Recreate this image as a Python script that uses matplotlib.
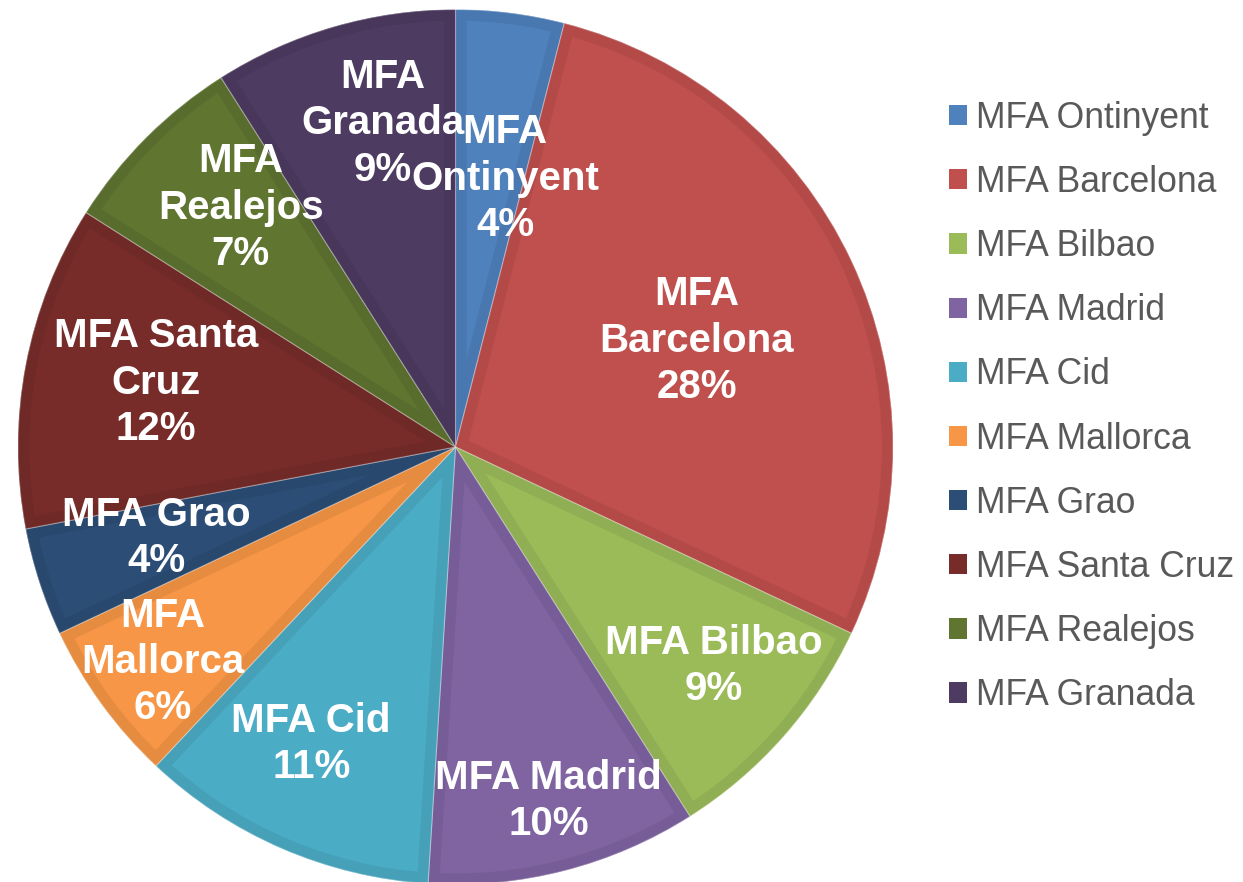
import numpy as np
import matplotlib
matplotlib.use("Agg")
import matplotlib.pyplot as plt
from matplotlib.patches import Patch, Wedge
from matplotlib.colors import to_rgb

# ---- data ----
categories = ["MFA Ontinyent", "MFA Barcelona", "MFA Bilbao", "MFA Madrid", "MFA Cid",
              "MFA Mallorca", "MFA Grao", "MFA Santa Cruz", "MFA Realejos", "MFA Granada"]
values = [4, 28, 9, 10, 11, 6, 4, 12, 7, 9]
label_texts = ["MFA\nOntinyent", "MFA\nBarcelona", "MFA Bilbao", "MFA Madrid", "MFA Cid",
               "MFA\nMallorca", "MFA Grao", "MFA Santa\nCruz", "MFA\nRealejos", "MFA\nGranada"]

# ---- style ----
colors = ["#4F81BD", "#C0504D", "#9BBB59", "#8064A2", "#4BACC6",
          "#F79646", "#2C4D75", "#772C2A", "#5F7530", "#4D3B62"]
label_radius = [0.624, 0.603, 0.774, 0.837, 0.755, 0.83, 0.715, 0.70, 0.735, 0.758]
label_angle_shift = [-3.3, -1.4, 1.1, 0.3, -2.5, 0.3, -1.1, -1.3, -3.1, -3.6]

W, H = 1243, 882
fig = plt.figure(figsize=(W / 100, H / 100), dpi=100)
cx, cy, R = 455.5, 447.0, 437.5
ax = fig.add_axes([(cx - R) / W, (H - cy - R) / H, 2 * R / W, 2 * R / H])

def shade(c, f):
    r, g, b = to_rgb(c)
    return (r * f, g * f, b * f)

wedges, _ = ax.pie(values, colors=colors, startangle=90, counterclock=False,
                   radius=1.0, wedgeprops=dict(linewidth=0))
ax.set_xlim(-1, 1)
ax.set_ylim(-1, 1)
ax.set_aspect("equal")
ax.axis("off")

for w, c in zip(wedges, colors):
    w.set_clip_on(False)
    band = Wedge(w.center, w.r, w.theta1, w.theta2, facecolor="none",
                 edgecolor=shade(c, 0.93), linewidth=16)
    ax.add_patch(band)
    band.set_clip_path(w)
    sep = Wedge(w.center, w.r, w.theta1, w.theta2, facecolor="none",
                edgecolor=(1, 1, 1, 0.35), linewidth=0.8, clip_on=False)
    ax.add_patch(sep)

total = sum(values)
for w, txt, v, rf, sh in zip(wedges, label_texts, values, label_radius, label_angle_shift):
    mid = np.deg2rad((w.theta1 + w.theta2) / 2 + sh)
    ax.text(rf * np.cos(mid), rf * np.sin(mid), f"{txt}\n{round(100 * v / total)}%",
            ha="center", va="center", color="white", fontsize=29, fontweight="bold",
            family="Liberation Sans", linespacing=1.28, clip_on=False)

handles = [Patch(facecolor=c, edgecolor="none") for c in colors]
fig.legend(handles, categories, loc="center left",
           bbox_to_anchor=(949 / W, 1 - 407 / H), frameon=False,
           prop=dict(family="Liberation Sans", size=25.6),
           labelcolor="#595959", handlelength=0.5, handleheight=0.5,
           handletextpad=0.26, labelspacing=0.82, borderpad=0, borderaxespad=0)

fig.savefig("out.png", dpi=100, facecolor="white")
